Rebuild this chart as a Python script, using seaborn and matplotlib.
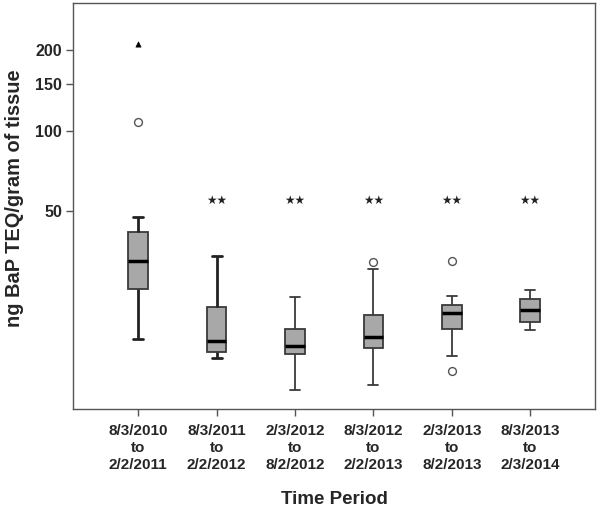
import numpy as np
import pandas as pd
import matplotlib
matplotlib.use("Agg")
import matplotlib.pyplot as plt
import seaborn as sns

# --- data (ng BaP TEQ / gram of tissue) ---
periods = ["8/3/2010\nto\n2/2/2011", "8/3/2011\nto\n2/2/2012", "2/3/2012\nto\n8/2/2012",
           "8/3/2012\nto\n2/2/2013", "2/3/2013\nto\n8/2/2013", "8/3/2013\nto\n2/3/2014"]
whisker_low = [16.6, 14.1, 10.7, 11.2, 14.3, 17.9]
q1 = [25.5, 14.8, 14.6, 15.3, 18.1, 19.2]
median = [32.5, 16.3, 15.6, 16.9, 20.8, 21.3]
q3 = [41.6, 21.8, 18.1, 20.4, 22.3, 23.4]
whisker_high = [47.4, 33.9, 23.8, 30.4, 24.0, 25.3]
outlier_idx = [0, 3, 4, 4]
outlier_val = [107.8, 32.2, 32.6, 12.6]
extreme_idx = [0]
extreme_val = [210]
signif = ["", "**", "**", "**", "**", "**"]
signif_y = 55
yticks = [50, 100, 150, 200]

# five-number summaries as long table
rows = []
for p, lo, a, m, b, hi in zip(periods, whisker_low, q1, median, q3, whisker_high):
    for v in (lo, a, m, b, hi):
        rows.append({"periodo": p, "valor": v})
df = pd.DataFrame(rows)

sns.set_style("white")
plt.rcParams["font.family"] = ["Liberation Sans", "DejaVu Sans"]
plt.rcParams["font.weight"] = "bold"

fig = plt.figure(figsize=(6, 5.11), dpi=100)
ax = fig.add_axes([0.122, 0.2, 0.870, 0.794])

sns.boxplot(data=df, x="periodo", y="valor", order=periods, whis=(0, 100), width=0.25,
            color="#a8a8a8", linecolor="#3a3a3a", linewidth=1.3, log_scale=True,
            medianprops=dict(color="black", linewidth=2.5), ax=ax)

# as duas primeiras caixas têm bigodes mais grossos no original
for ln in ax.lines:
    xd = np.asarray(ln.get_xdata(), dtype=float)
    if xd.size and xd.max() < 1.3 and ln.get_linewidth() < 2:
        ln.set_linewidth(2.0)
        ln.set_color("#222222")

sns.scatterplot(x=outlier_idx, y=outlier_val, marker="o", s=32, color="white",
                edgecolor="#555555", linewidth=1.0, ax=ax, zorder=5)
sns.scatterplot(x=extreme_idx, y=extreme_val, marker="^", s=14, color="black",
                edgecolor="black", linewidth=0.5, ax=ax, zorder=5)

for i, s in enumerate(signif):
    if s:
        ax.text(i, signif_y, "★★", ha="center", va="center", fontsize=8.5,
                family="DejaVu Sans", color="#222222")

ax.set_yscale("log")
ax.set_ylim(9.1, 300)
ax.set_xlim(-0.83, 5.83)
ax.yaxis.set_minor_locator(matplotlib.ticker.NullLocator())
ax.set_yticks(yticks)
ax.set_yticklabels([str(t) for t in yticks], fontsize=11.5, fontweight="bold")
ax.set_xticks(range(len(periods)))
ax.set_xticklabels(periods, fontsize=11, fontweight="bold", linespacing=1.25)

for sp in ax.spines.values():
    sp.set_color("#555555")
    sp.set_linewidth(1.0)
ax.tick_params(axis="both", direction="out", length=5, width=1, color="#555555",
               left=True, bottom=True, pad=3)
ax.tick_params(axis="x", pad=6)

ax.set_xlabel("Time Period", fontsize=13.5, fontweight="bold", labelpad=14)
ax.set_ylabel("ng BaP TEQ/gram of tissue", fontsize=14.4, fontweight="bold")
ax.yaxis.set_label_coords(-0.095, 0.52)

fig.savefig("out.png", dpi=100)
plt.close(fig)
